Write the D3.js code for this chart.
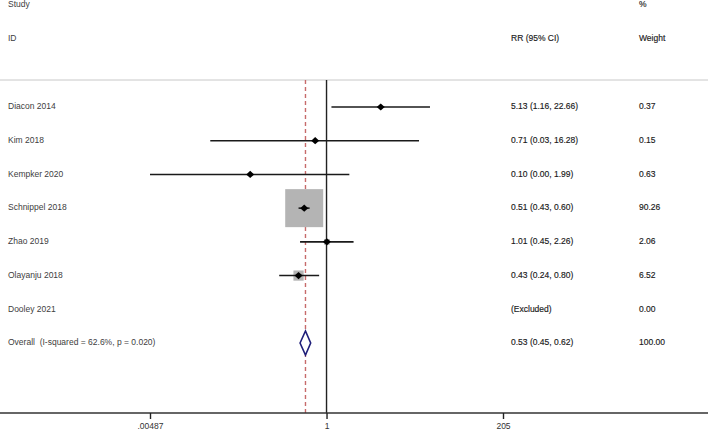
<!DOCTYPE html>
<html>
<head>
<meta charset="utf-8">
<script src="https://cdn.jsdelivr.net/npm/d3@7"></script>
<style>
  body { margin: 0; background: #fff; }
  svg { display: block; font-family: "Liberation Sans", Arial, sans-serif; }
  .lbl { font-size: 8.5px; fill: #404040; white-space: pre; }
  .val { font-size: 8.5px; fill: #1a1a1a; font-weight: 500; stroke: #1a1a1a; stroke-width: 0.15px; }
</style>
</head>
<body>
<svg id="chart"></svg>
<script>
// study rows
const studies = ["Diacon 2014", "Kim 2018", "Kempker 2020", "Schnippel 2018", "Zhao 2019", "Olayanju 2018", "Dooley 2021"];
const rr = [5.13, 0.71, 0.10, 0.51, 1.01, 0.43, null];
const lower = [1.16, 0.03, 0.00, 0.43, 0.45, 0.24, null];
const upper = [22.66, 16.28, 1.99, 0.60, 2.26, 0.80, null];
const weights = [0.37, 0.15, 0.63, 90.26, 2.06, 6.52, 0.00];
const rrText = ["5.13 (1.16, 22.66)", "0.71 (0.03, 16.28)", "0.10 (0.00, 1.99)", "0.51 (0.43, 0.60)", "1.01 (0.45, 2.26)", "0.43 (0.24, 0.80)", "(Excluded)"];
const weightText = ["0.37", "0.15", "0.63", "90.26", "2.06", "6.52", "0.00"];

// overall
const overallLabel = "Overall  (I-squared = 62.6%, p = 0.020)";
const overall = { rr: 0.53, lower: 0.45, upper: 0.62 };
const overallRR = "0.53 (0.45, 0.62)";
const overallWeight = "100.00";

// axis ticks
const tickValues = [0.00487, 1, 205];
const tickLabels = [".00487", "1", "205"];

const width = 708, height = 432;
const axisY = 413, topLine = 80;

const svg = d3.select("#chart").attr("width", width).attr("height", height);

const x = d3.scaleLog().domain([0.00487, 205]).range([150, 503]);
const rowLabels = studies.concat([overallLabel]);
const y = d3.scalePoint().domain(rowLabels).range([107, 343]);
const box = d3.scaleSqrt().domain([0, 90.26]).range([0, 38]);
const clampX = v => x(Math.min(Math.max(v, 0.00487), 205));

function label(cls, xx, yy, t) {
  svg.append("text").attr("class", cls).attr("x", xx).attr("y", yy)
    .attr("dominant-baseline", "middle").text(t);
}

// header
label("lbl", 8, 5, "Study");
label("lbl", 8, 39, "ID");
label("val", 511, 39, "RR (95% CI)");
label("val", 639, 5, "%");
label("val", 639, 39, "Weight");

// separator
svg.append("line").attr("x1", 0).attr("x2", width).attr("y1", topLine).attr("y2", topLine)
  .attr("stroke", "#c8c8c8").attr("stroke-width", 1);

// null line and overall line
svg.append("line").attr("x1", x(1)).attr("x2", x(1)).attr("y1", topLine).attr("y2", axisY)
  .attr("stroke", "#222").attr("stroke-width", 1.4);
svg.append("line").attr("x1", x(overall.rr)).attr("x2", x(overall.rr)).attr("y1", topLine).attr("y2", axisY)
  .attr("stroke", "#c76b6b").attr("stroke-width", 1.4).attr("stroke-dasharray", "4,3");

// rows
studies.forEach((s, i) => {
  const yy = y(s);
  label("lbl", 8, yy, s);
  label("val", 511, yy, rrText[i]);
  label("val", 639, yy, weightText[i]);
  if (rr[i] == null) return;
  const side = box(weights[i]);
  svg.append("rect")
    .attr("x", x(rr[i]) - side / 2).attr("y", yy - side / 2)
    .attr("width", side).attr("height", side)
    .attr("fill", "#b4b4b4");
  svg.append("line")
    .attr("x1", clampX(lower[i])).attr("x2", clampX(upper[i]))
    .attr("y1", yy).attr("y2", yy)
    .attr("stroke", "#1a1a1a").attr("stroke-width", 1.6);
  const cx = x(rr[i]);
  svg.append("path")
    .attr("d", `M${cx - 4},${yy} L${cx},${yy - 3.6} L${cx + 4},${yy} L${cx},${yy + 3.6} Z`)
    .attr("fill", "#000");
});

// overall row
const oy = y(overallLabel);
label("lbl", 8, oy, overallLabel);
label("val", 511, oy, overallRR);
label("val", 639, oy, overallWeight);
svg.append("path")
  .attr("d", `M${x(overall.lower)},${oy} L${x(overall.rr)},${oy - 12} L${x(overall.upper)},${oy} L${x(overall.rr)},${oy + 12} Z`)
  .attr("fill", "#fff").attr("stroke", "#1f1f7a").attr("stroke-width", 1.6);

// axis
svg.append("line").attr("x1", 0).attr("x2", width).attr("y1", axisY).attr("y2", axisY)
  .attr("stroke", "#333").attr("stroke-width", 1.3);
const axis = svg.append("g")
  .attr("transform", `translate(0,${axisY})`)
  .call(d3.axisBottom(x).tickValues(tickValues).tickFormat((d, i) => tickLabels[i]).tickSize(6).tickPadding(4));
axis.select(".domain").remove();
axis.selectAll(".tick line").attr("stroke", "#222").attr("stroke-width", 1.4);
axis.selectAll(".tick text").attr("font-size", "8.5px").attr("fill", "#333")
  .attr("font-family", "Liberation Sans, Arial, sans-serif");
</script>
</body>
</html>
